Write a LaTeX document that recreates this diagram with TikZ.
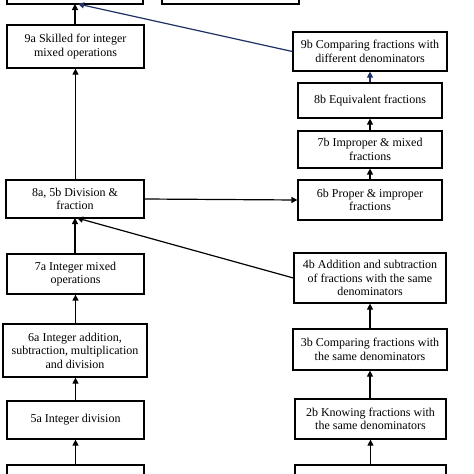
\documentclass[tikz,border=0pt]{standalone}
\usepackage{fontspec}
\setmainfont{Liberation Serif}
\usetikzlibrary{arrows.meta}
\definecolor{navy}{HTML}{1F3064}
\tikzset{
  box/.style={draw, line width=1.2pt, inner sep=0pt, align=center, font=\fontsize{12}{13.6}\selectfont},
  arr/.style={line width=1.2pt, -{Triangle[length=6pt,width=6pt]}},
  navyarr/.style={arr, draw=navy, -{Triangle[length=6pt,width=6pt,fill=navy]}}
}
\newcommand{\bx}[6]{\node[box, minimum width=#3-#2, minimum height=#5-#4] (#1) at ({(#2+#3)/2},{(#4+#5)/2}) {#6};}
\begin{document}
\begin{tikzpicture}[x=1pt,y=-1pt]
\useasboundingbox (0,0) rectangle (474,474);
\clip (0,0) rectangle (474,474);
\bx{topL}{7}{143}{-30}{4}{}
\bx{topR}{162}{299}{-30}{4}{}
\bx{n9a}{7}{144}{25}{68}{9a Skilled for integer\\mixed operations}
\bx{n9b}{293}{447}{32}{71}{9b Comparing fractions with\\different denominators}
\bx{n8b}{298}{442}{83}{118}{8b Equivalent fractions}
\bx{n7b}{298}{442}{131}{168}{7b Improper \& mixed\\fractions}
\bx{n6b}{298}{442}{180}{220}{6b Proper \& improper\\fractions}
\bx{n8a}{6}{144}{180}{218}{8a, 5b Division \&\\fraction}
\bx{n7a}{7}{144}{254}{294}{7a Integer mixed\\operations}
\bx{n4b}{294}{446}{253}{303}{4b Addition and subtraction\\of fractions with the same\\denominators}
\bx{n6a}{3}{147}{324}{377}{6a Integer addition,\\subtraction, multiplication\\and division}
\bx{n3b}{293}{447}{329}{370}{3b Comparing fractions with\\the same denominators}
\bx{n5a}{7}{144}{401}{439}{5a Integer division}
\bx{n2b}{295}{446}{399}{439}{2b Knowing fractions with\\the same denominators}
\bx{botL}{7}{144}{465}{500}{}
\bx{botR}{295}{446}{465}{500}{}
\coordinate (tL) at (78,4);
\coordinate (tL2) at (75,4);
\coordinate (aL) at (77,218);
\coordinate (aL2) at (75,218);
\draw[arr] (n9a.north -| tL2) -- (tL2);
\draw[navyarr] (n9b.west) -- (tL);
\draw[navyarr] (n8b.north -| n9b) -- (n9b.south);
\draw[arr] (n7b.north) -- (n8b.south);
\draw[arr] (n6b.north) -- (n7b.south);
\draw[arr] (n8a.north -| n9a.south) -- (n9a.south);
\draw[arr] (n8a.east) -- (n6b.west);
\draw[arr] (n4b.west) -- (aL);
\draw[arr] (n7a.north -| aL2) -- (aL2);
\draw[arr] (n6a.north -| n7a.south) -- (n7a.south);
\draw[arr] (n5a.north) -- (n6a.south -| n5a.north);
\draw[arr] (botL.north -| n5a.south) -- (n5a.south);
\draw[arr] (n3b.north -| n4b.south) -- (n4b.south);
\draw[arr] (n2b.north -| n3b.south) -- (n3b.south);
\draw[arr] (botR.north -| n2b.south) -- (n2b.south);
\end{tikzpicture}
\end{document}
